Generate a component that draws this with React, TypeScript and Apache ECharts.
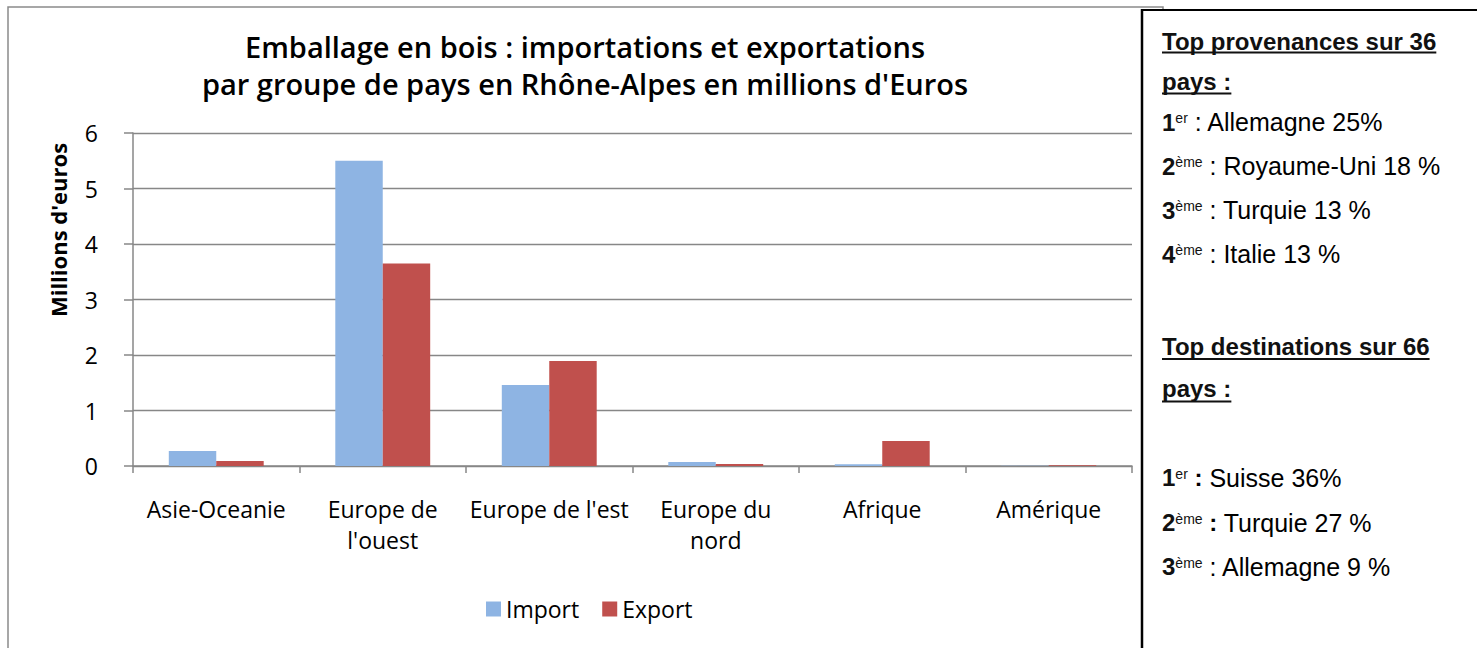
import React, { useEffect, useRef } from "react";
import * as echarts from "echarts";

const categories = ["Asie-Oceanie", "Europe de\nl'ouest", "Europe de l'est", "Europe du\nnord", "Afrique", "Amérique"];
const importValues = [0.27, 5.5, 1.46, 0.07, 0.03, 0.004];
const exportValues = [0.09, 3.65, 1.89, 0.035, 0.45, 0.012];
const yTicks = [0, 1, 2, 3, 4, 5, 6];

const titleLines = ["Emballage en bois : importations et exportations", "par groupe de pays en Rhône-Alpes en millions d'Euros"];
const yAxisName = "Millions d'euros";
const seriesNames = ["Import", "Export"];

const provHeading = ["Top provenances sur 36", "pays :"];
const provRanks = ["1", "2", "3", "4"];
const provSups = ["er", "ème", "ème", "ème"];
const provNames = ["Allemagne 25%", "Royaume-Uni 18 %", "Turquie 13 %", "Italie 13 %"];

const destHeading = ["Top destinations sur 66", "pays :"];
const destRanks = ["1", "2", "3"];
const destSups = ["er", "ème", "ème"];
const destNames = ["Suisse 36%", "Turquie 27 %", "Allemagne 9 %"];
const destBoldColon = [true, true, false];

const PANEL_FONT = '"Liberation Sans", Arial, sans-serif';
const CHART_FONT = '"Open Sans", sans-serif';

function measure(text: string, font: string): number {
  const t = new (echarts.graphic as any).Text({ style: { text, font } });
  return t.getBoundingRect().width;
}

export default function App() {
  const ref = useRef<HTMLDivElement>(null);
  useEffect(() => {
    if (!ref.current) return;
    const chart = echarts.init(ref.current, undefined, { renderer: "svg" });

    const px = 1162;
    const headFont = `bold 24px ${PANEL_FONT}`;
    const rankFont = `bold 24px ${PANEL_FONT}`;
    const supFont = `14px ${PANEL_FONT}`;
    const rich = {
      b: { fontFamily: PANEL_FONT, fontWeight: "bold", fontSize: 24, lineHeight: 24, color: "#111" },
      n: { fontFamily: PANEL_FONT, fontSize: 25, lineHeight: 24, color: "#111" },
    };

    const graphics: any[] = [];
    graphics.push({
      type: "rect", silent: true, z: 0,
      shape: { x: 8, y: 7, width: 1155, height: 700 },
      style: { fill: "none", stroke: "#8a8a8a", lineWidth: 1.5 },
    });
    graphics.push({
      type: "text", silent: true, z: 3, x: 58, y: 230, rotation: Math.PI / 2,
      style: {
        text: yAxisName, fontFamily: CHART_FONT, fontWeight: "bold", fontSize: 22,
        fill: "#000", align: "center", verticalAlign: "middle",
      },
    });
    graphics.push({
      type: "rect", silent: true, z: 1,
      shape: { x: 1143, y: 10, width: 340, height: 650 },
      style: { fill: "#ffffff" },
    });
    graphics.push({
      type: "line", silent: true, z: 2,
      shape: { x1: 1142, y1: 9, x2: 1142, y2: 660 },
      style: { stroke: "#000", lineWidth: 2.5 },
    });
    graphics.push({
      type: "line", silent: true, z: 2,
      shape: { x1: 1141, y1: 10, x2: 1477, y2: 10 },
      style: { stroke: "#000", lineWidth: 2 },
    });

    const heading = (text: string, yMid: number, yLine: number) => {
      graphics.push({
        type: "text", silent: true, z: 3, x: px, y: yMid,
        style: { text, font: headFont, fill: "#111", verticalAlign: "middle", align: "left" },
      });
      graphics.push({
        type: "line", silent: true, z: 3,
        shape: { x1: px, y1: yLine, x2: px + measure(text, headFont), y2: yLine },
        style: { stroke: "#111", lineWidth: 2 },
      });
    };
    const entry = (rank: string, sup: string, name: string, boldColon: boolean, yMid: number) => {
      const wRank = measure(rank, rankFont);
      const wSup = measure(sup, supFont);
      graphics.push({
        type: "text", silent: true, z: 3, x: px, y: yMid,
        style: { text: rank, font: rankFont, fill: "#111", verticalAlign: "middle", align: "left" },
      });
      graphics.push({
        type: "text", silent: true, z: 3, x: px + wRank, y: yMid - 4,
        style: { text: sup, font: supFont, fill: "#111", verticalAlign: "middle", align: "left" },
      });
      const text = boldColon ? `{b| :}{n| ${name}}` : `{n| : ${name}}`;
      graphics.push({
        type: "text", silent: true, z: 3, x: px + wRank + wSup, y: yMid,
        style: { text, rich, verticalAlign: "middle", align: "left" },
      });
    };

    heading(provHeading[0], 41.2, 52.5);
    heading(provHeading[1], 81.2, 93.5);
    const provY = [122, 166, 210, 254];
    provRanks.forEach((r, i) => entry(r, provSups[i], provNames[i], false, provY[i]));

    heading(destHeading[0], 346, 359);
    heading(destHeading[1], 388.4, 401.5);
    const destY = [477.5, 522.5, 566.5];
    destRanks.forEach((r, i) => entry(r, destSups[i], destNames[i], destBoldColon[i], destY[i]));

    chart.setOption({
      animation: false,
      backgroundColor: "#ffffff",
      title: {
        text: titleLines.join("\n"),
        left: 585,
        top: 28,
        textAlign: "center",
        padding: 0,
        textStyle: { fontFamily: CHART_FONT, fontWeight: 600, fontSize: 29, lineHeight: 37, color: "#000" },
      },
      legend: {
        data: seriesNames,
        left: 486,
        top: 597,
        padding: 0,
        itemWidth: 15,
        itemHeight: 15,
        itemGap: 23,
        icon: "rect",
        textStyle: { fontFamily: CHART_FONT, fontSize: 23, lineHeight: 24, color: "#000" },
      },
      grid: { left: 133, right: 345, top: 133, bottom: 182, containLabel: false },
      xAxis: {
        type: "category",
        data: categories,
        axisLine: { lineStyle: { color: "#878787", width: 1.5 } },
        axisTick: { show: true, length: 7, lineStyle: { color: "#878787", width: 1.5 } },
        axisLabel: { fontFamily: CHART_FONT, fontSize: 23, lineHeight: 31, color: "#000", margin: 27, interval: 0 },
      },
      yAxis: {
        type: "value",
        min: yTicks[0],
        max: yTicks[yTicks.length - 1],
        interval: 1,
        axisLine: { show: true, lineStyle: { color: "#878787", width: 1.5 } },
        axisTick: { show: true, length: 9, lineStyle: { color: "#878787", width: 1.5 } },
        axisLabel: { fontFamily: CHART_FONT, fontSize: 23, color: "#000", margin: 35 },
        splitLine: { show: true, lineStyle: { color: "#878787", width: 1.3 } },
      },
      series: [
        {
          name: seriesNames[0], type: "bar", data: importValues,
          itemStyle: { color: "#8EB4E3" }, barGap: "0%", barCategoryGap: "43%",
        },
        {
          name: seriesNames[1], type: "bar", data: exportValues,
          itemStyle: { color: "#C0504D" }, barGap: "0%", barCategoryGap: "43%",
        },
      ],
      graphic: graphics,
    });
    return () => chart.dispose();
  }, []);
  return <div ref={ref} style={{ position: "fixed", left: 0, top: 0, width: 1477, height: 648 }} />;
}
